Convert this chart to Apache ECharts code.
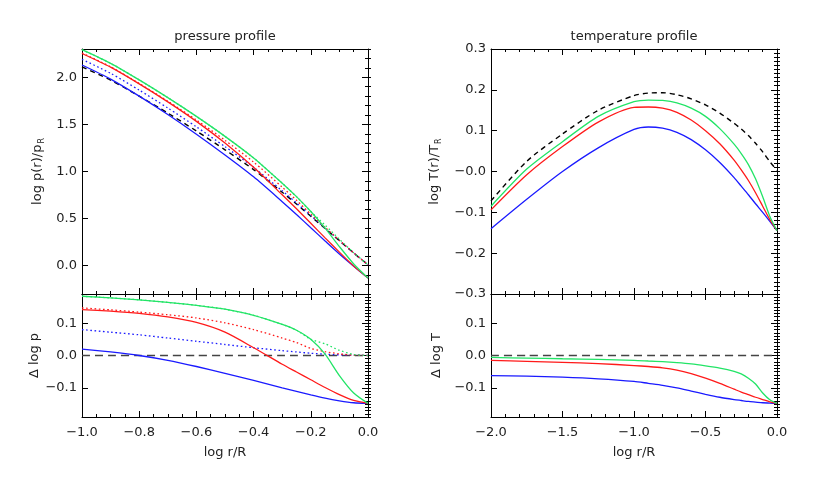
<!DOCTYPE html>
<html><head><meta charset="utf-8">
<script src="https://cdn.jsdelivr.net/npm/echarts@6/dist/echarts.min.js"></script>
<style>html,body{margin:0;padding:0;background:#fff}#c{width:817px;height:491px}</style>
</head><body><div id="c"></div>
<script>
// ---------- data: pressure profile (left) ----------
const xL = [-1,-0.9,-0.8,-0.7,-0.6,-0.5,-0.4,-0.3,-0.25,-0.2,-0.15,-0.1,-0.05,0];
const pRef      = [2.11,1.97,1.80,1.62,1.43,1.23,1.02,0.78,0.655,0.525,0.395,0.265,0.135,0.01];
const pGreen    = [2.293,2.148,1.972,1.784,1.585,1.373,1.144,0.876,0.733,0.575,0.399,0.203,0.019,-0.13];
const pGreenDot = [2.293,2.148,1.972,1.784,1.585,1.373,1.144,0.876,0.733,0.575,0.431,0.281,0.138,0.01];
const pRed      = [2.252,2.107,1.930,1.739,1.532,1.302,1.044,0.753,0.604,0.450,0.296,0.144,-0.004,-0.13];
const pRedDot   = [2.257,2.111,1.934,1.746,1.546,1.331,1.100,0.834,0.695,0.547,0.407,0.270,0.136,0.01];
const pBlueDot  = [2.19,2.042,1.864,1.674,1.474,1.264,1.044,0.795,0.666,0.532,0.399,0.267,0.136,0.01];
const pBlue     = [2.13,1.981,1.80,1.605,1.396,1.175,0.943,0.680,0.544,0.403,0.263,0.125,-0.005,-0.13];

const dpZero     = [0,0,0,0,0,0,0,0,0,0,0,0,0,0];
const dpGreen    = [0.183,0.178,0.172,0.164,0.155,0.143,0.124,0.096,0.078,0.050,0.004,-0.062,-0.116,-0.148];
const dpGreenDot = [0.183,0.178,0.172,0.164,0.155,0.143,0.124,0.096,0.078,0.050,0.036,0.016,0.003,0];
const dpRed      = [0.142,0.137,0.130,0.119,0.102,0.072,0.024,-0.027,-0.051,-0.075,-0.099,-0.121,-0.139,-0.148];
const dpRedDot   = [0.147,0.141,0.134,0.126,0.116,0.101,0.080,0.054,0.040,0.022,0.012,0.005,0.001,0];
const dpBlueDot  = [0.080,0.072,0.064,0.054,0.044,0.034,0.024,0.015,0.011,0.007,0.004,0.002,0.001,0];
const dpBlue     = [0.020,0.011,0.0,-0.015,-0.034,-0.055,-0.077,-0.100,-0.111,-0.122,-0.132,-0.140,-0.146,-0.148];

// ---------- data: temperature profile (right) ----------
const xR = [-2,-1.75,-1.5,-1.25,-1.0,-0.9,-0.8,-0.7,-0.6,-0.5,-0.4,-0.3,-0.25,-0.2,-0.15,-0.1,-0.05,0];
const tRef   = [-0.072,0.025,0.092,0.150,0.186,0.192,0.193,0.188,0.178,0.163,0.143,0.118,0.104,0.088,0.069,0.048,0.024,0.003];
const tGreen = [-0.085,0.006,0.073,0.135,0.171,0.175,0.174,0.168,0.155,0.135,0.105,0.067,0.044,0.017,-0.018,-0.062,-0.110,-0.145];
const tRed   = [-0.094,-0.008,0.061,0.121,0.157,0.158,0.155,0.145,0.126,0.100,0.068,0.028,0.004,-0.022,-0.052,-0.085,-0.118,-0.145];
const tBlue  = [-0.140,-0.068,0.000,0.058,0.103,0.109,0.106,0.096,0.078,0.053,0.022,-0.015,-0.036,-0.057,-0.079,-0.100,-0.122,-0.145];

const dtZero  = [0,0,0,0,0,0,0,0,0,0,0,0,0,0,0,0,0,0];
const dtGreen = [-0.006,-0.008,-0.010,-0.012,-0.015,-0.017,-0.019,-0.022,-0.026,-0.032,-0.039,-0.049,-0.057,-0.070,-0.088,-0.116,-0.137,-0.148];
const dtRed   = [-0.015,-0.018,-0.021,-0.025,-0.031,-0.034,-0.038,-0.045,-0.056,-0.070,-0.086,-0.104,-0.113,-0.121,-0.129,-0.136,-0.143,-0.148];
const dtBlue  = [-0.062,-0.064,-0.067,-0.072,-0.080,-0.086,-0.092,-0.100,-0.110,-0.120,-0.129,-0.136,-0.139,-0.142,-0.144,-0.146,-0.147,-0.148];

// ---------- axes ticks ----------
const pMajor  = [0, 0.5, 1.0, 1.5, 2.0];
const dMajor  = [-0.1, 0, 0.1];
const tMajor  = [-0.3, -0.2, -0.1, 0, 0.1, 0.2, 0.3];

const FONT = 'DejaVu Sans';
const TXT = '#222';
const GREEN = '#22e466', RED = '#ff1a1a', BLUE = '#1a1aff';

const grids = [
  {left: 82,  top: 49,  width: 286, height: 245},
  {left: 82,  top: 294, width: 286, height: 123},
  {left: 491, top: 49,  width: 286, height: 245},
  {left: 491, top: 294, width: 286, height: 123}
];

function fmt(v, negZero) {
  if (Math.abs(v) < 1e-9) return negZero ? '\u22120.0' : '0.0';
  const s = v.toFixed(1);
  return s.replace('-', '\u2212');
}

const xSpecs = [
  {min: -1, max: 0, interval: 0.2, split: 4, labels: false},
  {min: -1, max: 0, interval: 0.2, split: 4, labels: true},
  {min: -2, max: 0, interval: 0.5, split: 5, labels: false},
  {min: -2, max: 0, interval: 0.5, split: 5, labels: true}
];
const ySpecs = [
  {min: -0.3, max: 2.3, minor: 0.1, major: pMajor, name: 'log p(r)/p{s|R}', gap: 36, negZero: false},
  {min: -0.19, max: 0.19, minor: 0.01, major: dMajor, name: '\u0394 log p', gap: 40, negZero: false},
  {min: -0.3, max: 0.3, minor: 0.01, major: tMajor, name: 'log T(r)/T{s|R}', gap: 48, negZero: true},
  {min: -0.19, max: 0.19, minor: 0.01, major: dMajor, name: '\u0394 log T', gap: 48, negZero: false}
];

const axisLine = {show: true, onZero: false, lineStyle: {color: '#000', width: 1}};
const xAxes = [], yAxes = [];
xSpecs.forEach((s, g) => {
  ['bottom', 'top'].forEach(pos => {
    const showLab = s.labels && pos === 'bottom';
    xAxes.push({
      type: 'value', gridIndex: g, position: pos, min: s.min, max: s.max, interval: s.interval,
      axisLine: axisLine,
      axisTick: {show: true, inside: true, length: 6, lineStyle: {color: '#000', width: 1}},
      minorTick: {show: true, splitNumber: s.split, length: 3, lineStyle: {color: '#000', width: 1}},
      splitLine: {show: false}, minorSplitLine: {show: false},
      axisLabel: {show: showLab, margin: 9, fontFamily: FONT, fontSize: 13, color: TXT, formatter: v => fmt(v, false)},
      name: showLab ? 'log r/R' : '', nameLocation: 'middle', nameGap: 29,
      nameTextStyle: {fontFamily: FONT, fontSize: 13, color: TXT}
    });
  });
});
ySpecs.forEach((s, g) => {
  ['left', 'right'].forEach(pos => {
    const isLeft = pos === 'left';
    yAxes.push({
      type: 'value', gridIndex: g, position: pos, min: s.min, max: s.max, interval: s.minor,
      axisLine: axisLine,
      axisTick: {show: true, inside: true, length: 6, customValues: s.major, lineStyle: {color: '#000', width: 1}},
      splitLine: {show: false},
      axisLabel: {show: isLeft, customValues: s.major, margin: 5, fontFamily: FONT, fontSize: 13, color: TXT,
                  formatter: v => fmt(v, s.negZero)},
      name: isLeft ? s.name : '', nameLocation: 'middle', nameGap: s.gap, nameRotate: 90,
      nameTextStyle: {fontFamily: FONT, fontSize: 13, color: TXT,
                      rich: {s: {fontFamily: FONT, fontSize: 8, color: TXT, lineHeight: 16, verticalAlign: 'bottom', padding: [6, 0, 0, 1]}}}
    });
    yAxes.push({
      type: 'value', gridIndex: g, position: pos, min: s.min, max: s.max, interval: s.minor,
      axisLine: {show: false},
      axisTick: {show: true, inside: true, length: 3, lineStyle: {color: '#000', width: 1}},
      splitLine: {show: false},
      axisLabel: {show: false}
    });
  });
});

function line(g, xs, ys, color, type, width, z) {
  return {
    type: 'line', xAxisIndex: 2 * g, yAxisIndex: 4 * g,
    data: xs.map((x, i) => [x, ys[i]]),
    showSymbol: false, symbol: 'none', smooth: 0.25,
    lineStyle: {color: color, width: width || 1.3, type: type || 'solid'},
    z: z || 2, silent: true, animation: false
  };
}
const DOT = [1.6, 2.6], DASH = [5, 4];
const series = [
  line(0, xL, pRef, '#000', DASH, 1.4),
  line(0, xL, pBlueDot, BLUE, DOT),
  line(0, xL, pRedDot, RED, DOT),
  line(0, xL, pGreenDot, GREEN, DOT),
  line(0, xL, pBlue, BLUE),
  line(0, xL, pRed, RED),
  line(0, xL, pGreen, GREEN),

  line(1, xL, dpZero, '#444', [8, 5], 1.6),
  line(1, xL, dpBlueDot, BLUE, DOT),
  line(1, xL, dpRedDot, RED, DOT),
  line(1, xL, dpGreenDot, GREEN, DOT),
  line(1, xL, dpBlue, BLUE),
  line(1, xL, dpRed, RED),
  line(1, xL, dpGreen, GREEN),

  line(2, xR, tRef, '#000', DASH, 1.4),
  line(2, xR, tBlue, BLUE),
  line(2, xR, tRed, RED),
  line(2, xR, tGreen, GREEN),

  line(3, xR, dtZero, '#444', [8, 5], 1.6),
  line(3, xR, dtBlue, BLUE),
  line(3, xR, dtRed, RED),
  line(3, xR, dtGreen, GREEN)
];

const chart = echarts.init(document.getElementById('c'), null, {renderer: 'canvas'});
chart.setOption({
  backgroundColor: '#fff',
  animation: false,
  grid: grids,
  xAxis: xAxes,
  yAxis: yAxes,
  series: series,
  graphic: [
    {type: 'text', x: 225, y: 37, style: {text: 'pressure profile', align: 'center', verticalAlign: 'middle', font: '13px "DejaVu Sans"', fill: TXT}},
    {type: 'text', x: 634, y: 37, style: {text: 'temperature profile', align: 'center', verticalAlign: 'middle', font: '13px "DejaVu Sans"', fill: TXT}}
  ]
});
</script>
</body></html>
